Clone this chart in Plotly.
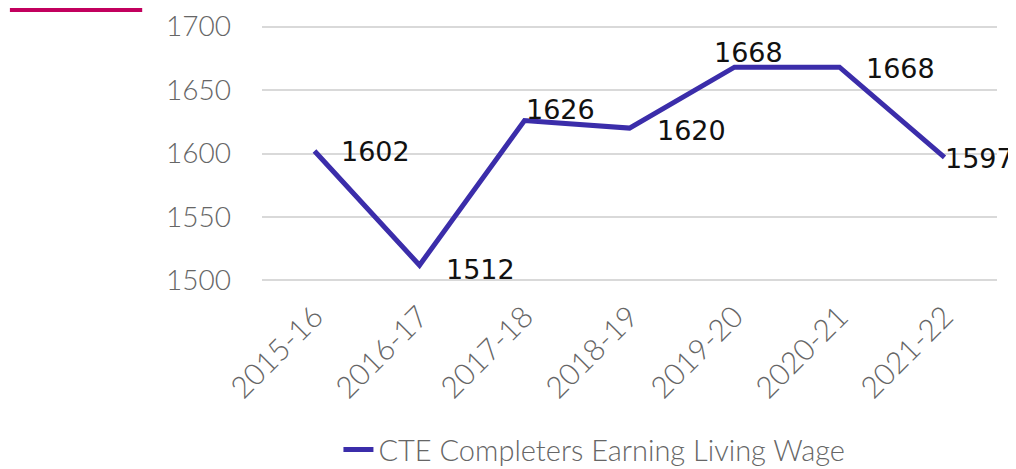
import plotly.graph_objects as go

years = ["2015-16", "2016-17", "2017-18", "2018-19", "2019-20", "2020-21", "2021-22"]
earning_living_wage = [1602, 1512, 1626, 1620, 1668, 1668, 1597]
y_ticks = [1500, 1550, 1600, 1650, 1700]

# pixel offsets of each data label from its point (x right, y up)
label_dx = [61, 61, 36, 62, 14, 61, 35]
label_dy = [-1, -4, 11, -2, 15, -1, -1]

fig = go.Figure()
fig.add_trace(go.Scatter(
    x=years,
    y=earning_living_wage,
    mode="lines",
    name="CTE Completers Earning Living Wage",
    line=dict(color="#3B2DAA", width=5),
))

for yr, v, dx, dy in zip(years, earning_living_wage, label_dx, label_dy):
    fig.add_annotation(x=yr, y=v, text=str(v), showarrow=False,
                       xshift=dx, yshift=dy,
                       font=dict(family="DejaVu Sans", size=27, color="#111111"))

# decorative accent line at the top left
fig.add_shape(type="line", xref="paper", yref="paper",
              x0=-0.343, x1=-0.163, y0=1.058, y1=1.058,
              line=dict(color="#C2005E", width=4))

tick_font = dict(family="Lato", size=28, color="#666666", weight=300)

# page body adds an 8px offset, so the figure is sized to the remaining area
fig.update_layout(
    width=1008,
    height=461,
    margin=dict(l=254, r=19, t=17, b=187, autoexpand=False),
    paper_bgcolor="white",
    plot_bgcolor="white",
    showlegend=True,
    legend=dict(orientation="h", x=0.104, xanchor="left", y=-0.652, yanchor="middle",
                font=dict(family="Lato", size=29, color="#666666", weight=300)),
    xaxis=dict(range=[-0.5, 6.5], tickangle=-45, showgrid=False, showline=False,
               ticks="", automargin=False, ticklabelstandoff=10,
               tickfont=dict(family="Lato", size=30, color="#666666", weight=300)),
    yaxis=dict(range=[1498.8, 1701.2], tickvals=y_ticks, showgrid=True,
               gridcolor="#D9D9D9", gridwidth=2, zeroline=False, ticks="",
               automargin=False, ticklabelstandoff=30, ticklabeloverflow="allow",
               tickfont=tick_font),
)

fig.write_html("out.html")
